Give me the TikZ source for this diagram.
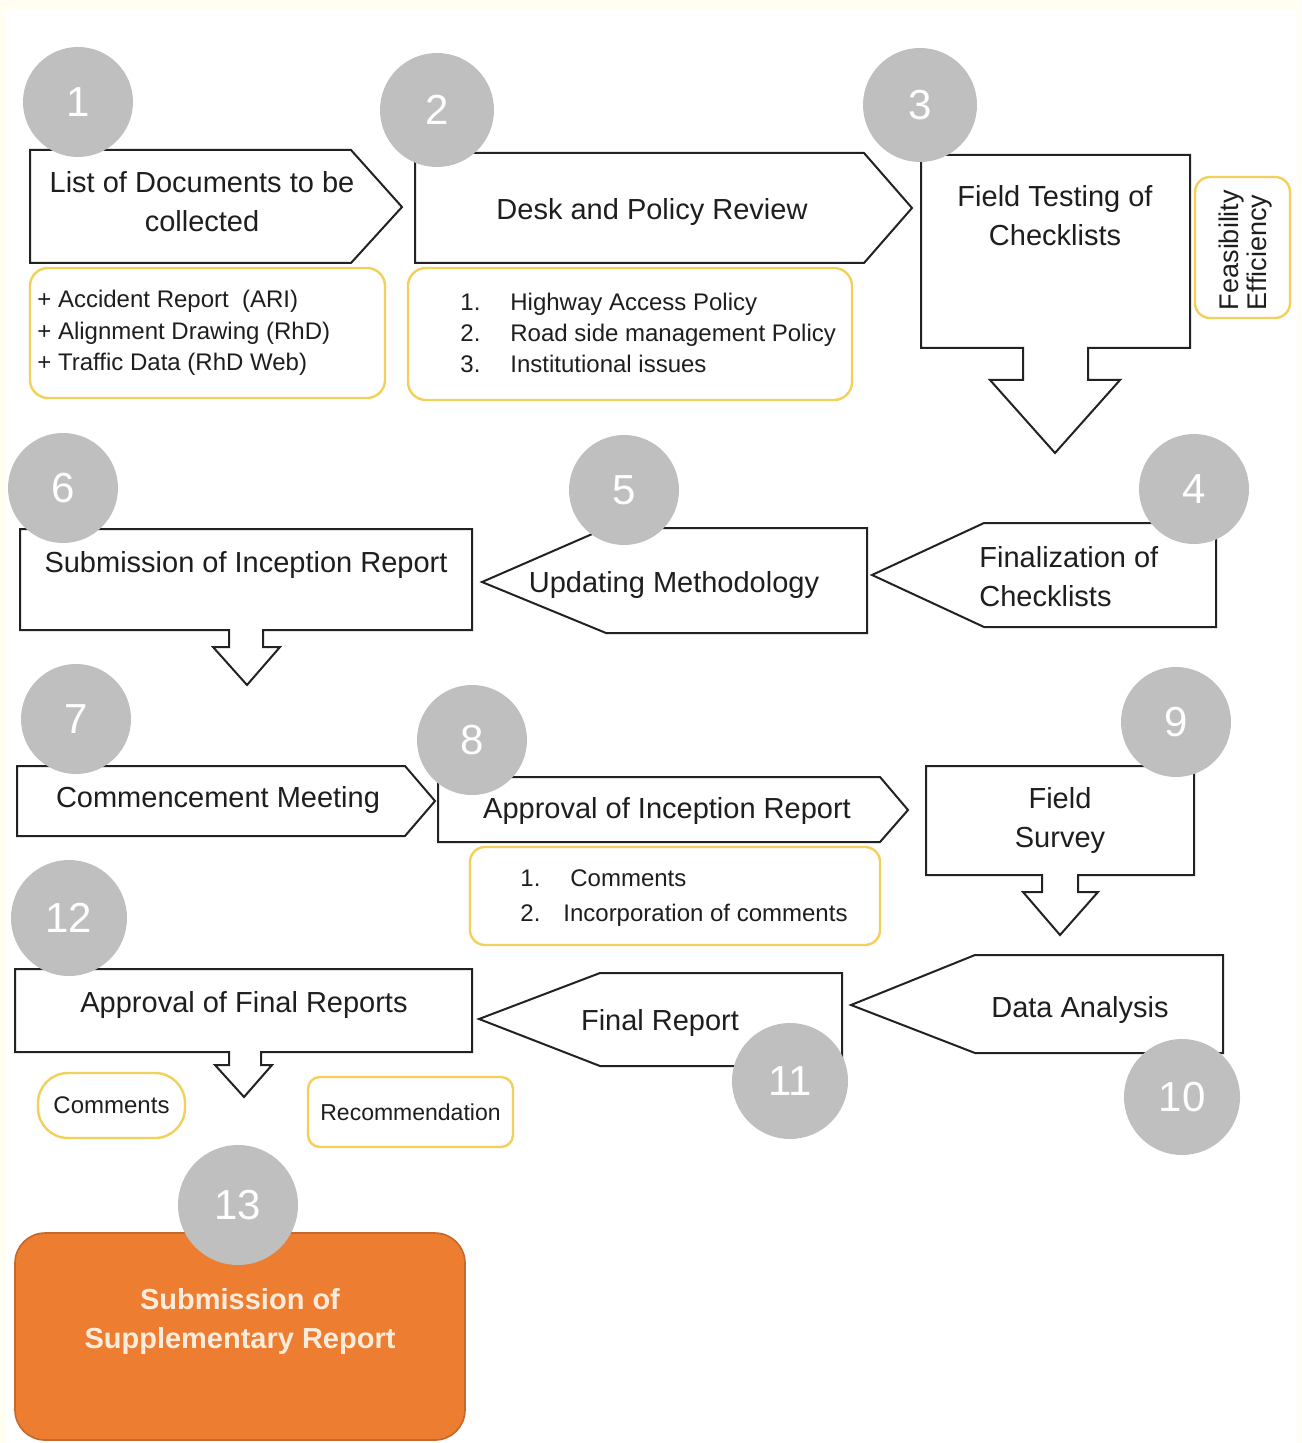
\documentclass[tikz,border=0pt]{standalone}
\usepackage{fontspec}
\setmainfont{Liberation Sans}
\definecolor{cream}{RGB}{255,254,240}
\definecolor{linec}{RGB}{34,34,34}
\definecolor{txt}{RGB}{30,30,30}
\definecolor{ylw}{RGB}{242,208,90}
\definecolor{cgray}{RGB}{191,191,191}
\definecolor{orng}{RGB}{237,125,49}
\definecolor{orngd}{RGB}{196,104,44}
\definecolor{otxt}{RGB}{253,236,220}
\begin{document}
\begin{tikzpicture}[x=0.5pt,y=-0.5pt,
  shp/.style={draw=linec, line width=1pt, fill=white, line join=miter},
  ybox/.style={draw=ylw, line width=1.2pt, fill=white},
  num/.style={circle, fill=cgray, inner sep=0pt, text=white, font=\fontsize{21}{21}\selectfont},
  lbl/.style={inner sep=0pt, text=txt, font=\fontsize{14.5}{19.5}\selectfont},
  lst/.style={inner sep=0pt, text=txt, align=left, anchor=west}]
\useasboundingbox (0,0) rectangle (1301,1443);
\fill[cream] (0,0) rectangle (1301,1443);
\fill[white] (5,9) rectangle (1297,1443);

% ---- step shapes ----
\draw[shp] (30,150) -- (351,150) -- (402,207) -- (351,263) -- (30,263) -- cycle;
\draw[shp] (415,153) -- (864,153) -- (912,208) -- (864,263) -- (415,263) -- cycle;
\draw[shp] (921,155) -- (1190,155) -- (1190,348) -- (1088,348) -- (1088,380) -- (1120,380)
  -- (1055,453) -- (990,380) -- (1023,380) -- (1023,348) -- (921,348) -- cycle;
\draw[shp] (984,523) -- (1216,523) -- (1216,627) -- (984,627) -- (872,575) -- cycle;
\draw[shp] (606,528) -- (867,528) -- (867,633) -- (606,633) -- (482,582) -- cycle;
\draw[shp] (20,529) -- (472,529) -- (472,630) -- (263,630) -- (263,647) -- (280,647)
  -- (247,685) -- (213,647) -- (229,647) -- (229,630) -- (20,630) -- cycle;
\draw[shp] (17,766) -- (405,766) -- (435,801) -- (405,836) -- (17,836) -- cycle;
\draw[shp] (438,777) -- (880,777) -- (908,810) -- (880,842) -- (438,842) -- cycle;
\draw[shp] (926,766) -- (1194,766) -- (1194,875) -- (1078,875) -- (1078,892) -- (1098,892)
  -- (1060,935) -- (1023,892) -- (1042,892) -- (1042,875) -- (926,875) -- cycle;
\draw[shp] (975,955) -- (1223,955) -- (1223,1053) -- (975,1053) -- (851,1005) -- cycle;
\draw[shp] (600,973) -- (842,973) -- (842,1066) -- (600,1066) -- (479,1019) -- cycle;
\draw[shp] (15,969) -- (472,969) -- (472,1052) -- (261,1052) -- (261,1065) -- (272,1065)
  -- (244,1097) -- (215,1065) -- (229,1065) -- (229,1052) -- (15,1052) -- cycle;
\draw[draw=orngd, fill=orng, line width=0.8pt, rounded corners=15pt] (15,1233) rectangle (465,1440);

% ---- yellow note boxes ----
\draw[ybox, rounded corners=9pt] (30,268) rectangle (385,398);
\draw[ybox, rounded corners=9pt] (408,268) rectangle (852,400);
\draw[ybox, rounded corners=7.5pt] (1195,177) rectangle (1290,318);
\draw[ybox, rounded corners=7.5pt] (470,847) rectangle (880,945);
\node[ybox, rounded corners=15pt, minimum width=73.5pt, minimum height=32.5pt, inner sep=0pt,
  text=txt, font=\fontsize{12}{14}\selectfont] (ncom) at (111.5,1105.5) {Comments};
\node[ybox, rounded corners=6pt, minimum width=102.5pt, minimum height=35pt, inner sep=0pt,
  text=txt, font=\fontsize{11.5}{14}\selectfont] (nrec) at (410.5,1112) {Recommendation};

% ---- labels ----
\node[lbl, align=center] (t1) at (202,201.5) {List of Documents to be\\collected};
\node[lbl, anchor=base] (t2) at (652,220) {Desk and Policy Review};
\node[lbl, align=center] (t3) at (1055,215.5) {Field Testing of\\Checklists};
\node[lbl, align=left, anchor=west] (t4) at (979,577) {Finalization of\\Checklists};
\node[lbl, anchor=base] (t5) at (674,592) {Updating Methodology};
\node[lbl, anchor=base] (t6) at (246,572) {Submission of Inception Report};
\node[lbl, anchor=base] (t7) at (218,807) {Commencement Meeting};
\node[lbl, anchor=base] (t8) at (667,818) {Approval of Inception Report};
\node[lbl, align=center] (t9) at (1060,820) {Field\\Survey};
\node[lbl, anchor=base] (t10) at (1080,1017) {Data Analysis};
\node[lbl, anchor=base] (t11) at (660,1030) {Final Report};
\node[lbl, anchor=base] (t12) at (244,1012) {Approval of Final Reports};
\node[inner sep=0pt, text=otxt, align=center, font=\bfseries\fontsize{14.5}{19.5}\selectfont]
  (t13) at (240,1321.5) {Submission of\\Supplementary Report};

% ---- lists ----
\node[lst, font=\fontsize{12}{15.75}\selectfont] (l1) at (37,333)
  {+ Accident Report~~(ARI)\\+ Alignment Drawing (RhD)\\+ Traffic Data (RhD Web)};
\node[lst, font=\fontsize{12}{15.5}\selectfont] (l2) at (460,333)
  {\makebox[25pt][l]{1.}Highway Access Policy\\\makebox[25pt][l]{2.}Road side management Policy\\\makebox[25pt][l]{3.}Institutional issues};
\node[lst, font=\fontsize{12}{17.5}\selectfont] (l8) at (520,898.5)
  {\makebox[25pt][l]{1.}Comments\\\makebox[21.5pt][l]{2.}Incorporation of comments};
\node[inner sep=0pt, text=txt, align=left, rotate=90, font=\fontsize{13.5}{14}\selectfont]
  (l3) at (1245,250) {Feasibility\\Efficiency};

% ---- number circles ----
\node[num, minimum size=55pt] (c1) at (78,102) {1};
\node[num, minimum size=57pt] (c2) at (437,110) {2};
\node[num, minimum size=57pt] (c3) at (920,105) {3};
\node[num, minimum size=55pt] (c4) at (1194,489) {4};
\node[num, minimum size=55pt] (c5) at (624,490) {5};
\node[num, minimum size=55pt] (c6) at (63,488) {6};
\node[num, minimum size=55pt] (c7) at (76,719) {7};
\node[num, minimum size=55pt] (c8) at (472,740) {8};
\node[num, minimum size=55pt] (c9) at (1176,722) {9};
\node[num, minimum size=58pt] (c10) at (1182,1097) {10};
\node[num, minimum size=58pt] (c11) at (790,1081) {11};
\node[num, minimum size=58pt] (c12) at (69,918) {12};
\node[num, minimum size=60pt] (c13) at (238,1205) {13};
\end{tikzpicture}
\end{document}
